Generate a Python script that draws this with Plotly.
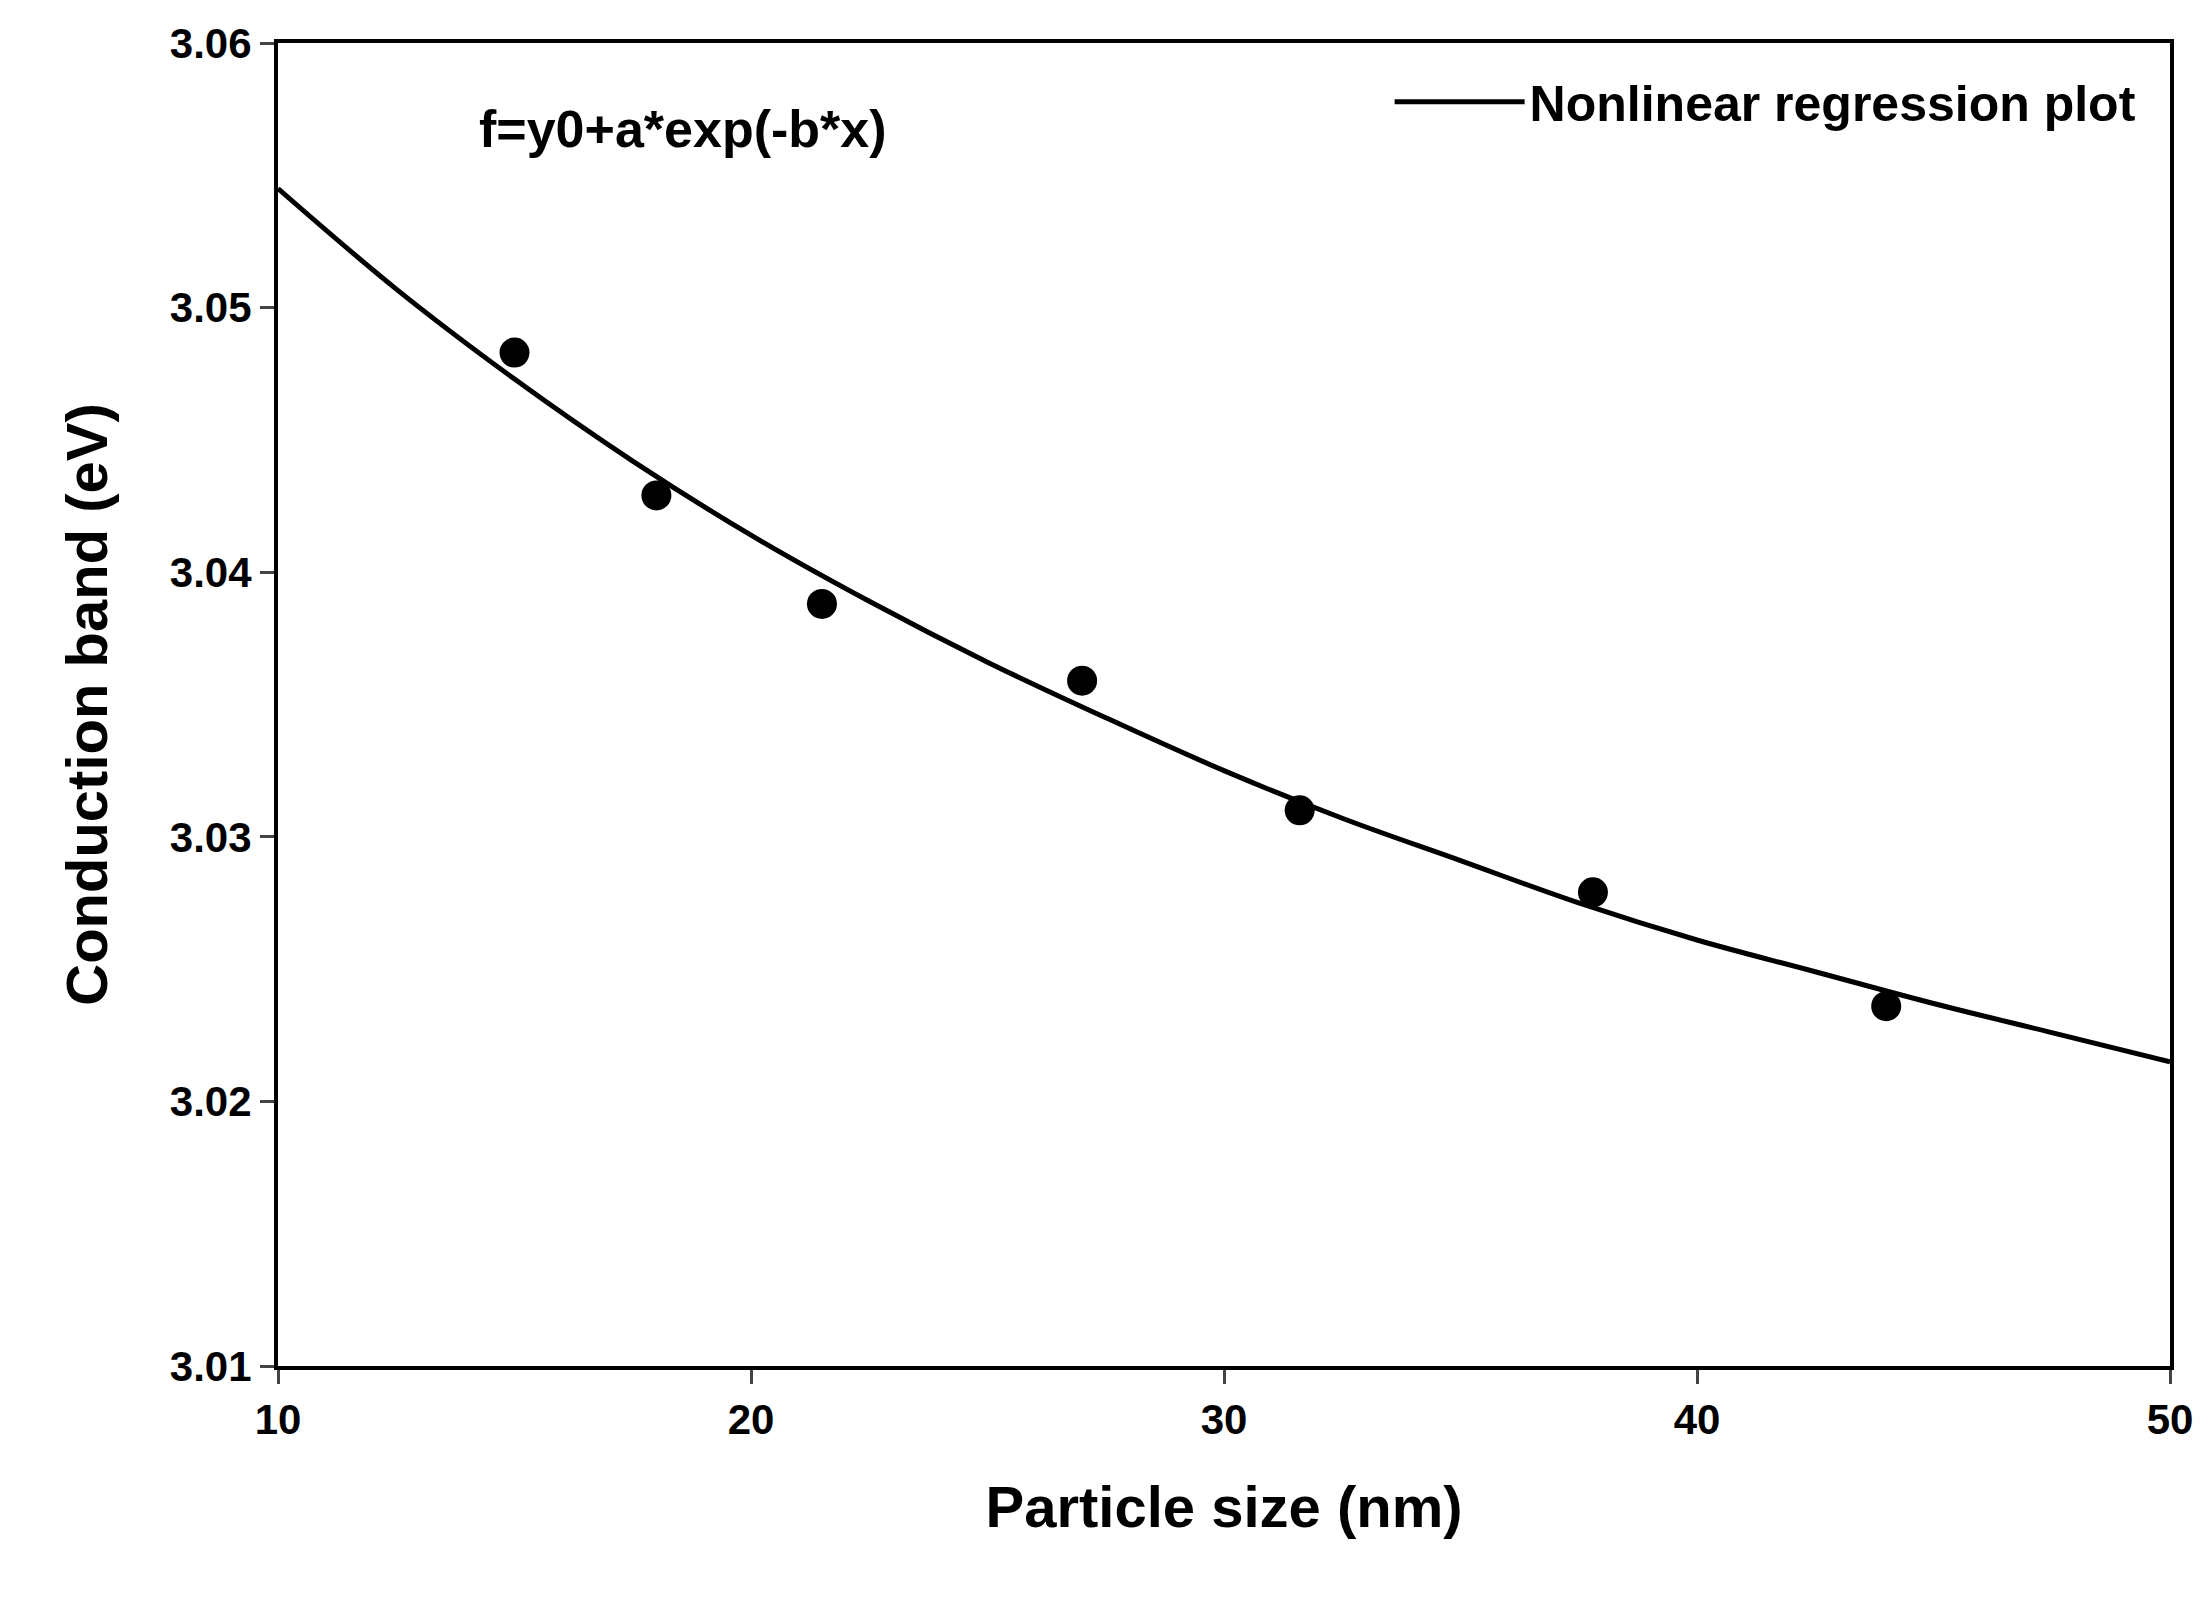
import plotly.graph_objects as go

# measured points
size_nm = [15.0, 18.0, 21.5, 27.0, 31.6, 37.8, 44.0]
cond_band = [3.0483, 3.0429, 3.0388, 3.0359, 3.0310, 3.0279, 3.0236]

# fitted curve
fit_x = [10, 12.5, 15, 17.5, 20, 22.5, 25, 27.5, 30, 32.5, 35, 37.5, 40, 42.5, 45, 47.5, 50]
fit_y = [3.0545, 3.0507, 3.0473, 3.0442, 3.0414, 3.0389, 3.0366, 3.0345, 3.0325, 3.0307,
         3.0291, 3.0275, 3.0261, 3.0249, 3.0237, 3.0226, 3.0215]

font = dict(family="Liberation Sans, Arial", size=42, color="black")

fig = go.Figure()
fig.add_trace(go.Scatter(x=fit_x, y=fit_y, mode="lines", line=dict(color="black", width=5, shape="spline"),
                         name="<b>Nonlinear regression plot</b>"))
fig.add_trace(go.Scatter(x=size_nm, y=cond_band, mode="markers", marker=dict(color="black", size=30),
                         showlegend=False))

axis = dict(showline=True, linecolor="black", linewidth=4, mirror=True, ticks="outside", ticklen=14,
            tickwidth=3, showgrid=False, zeroline=False, tickfont=font)
fig.update_xaxes(range=[10, 50], dtick=10, title=dict(text="<b>Particle size (nm)</b>", font=dict(size=58), standoff=45),
                 tickprefix="<b>", ticksuffix="</b>", **axis)
fig.update_yaxes(range=[3.01, 3.06], dtick=0.01, tickformat=".2f", title=dict(text="<b>Conduction band (eV)</b>", font=dict(size=58), standoff=45),
                 tickprefix="<b>", ticksuffix="</b>", **axis)

fig.add_annotation(x=0.105, y=0.935, xref="paper", yref="paper", text="<b>f=y0+a*exp(-b*x)</b>",
                   showarrow=False, font=dict(size=52), xanchor="left", yanchor="middle")

fig.update_layout(width=2207, height=1613, plot_bgcolor="white", paper_bgcolor="white",
                  font=font, margin=dict(l=270, r=45, t=35, b=255),
                  legend=dict(x=0.985, y=0.985, xanchor="right", yanchor="top", font=dict(size=50),
                              itemwidth=130, bgcolor="rgba(0,0,0,0)"))
fig.write_html("out.html")
